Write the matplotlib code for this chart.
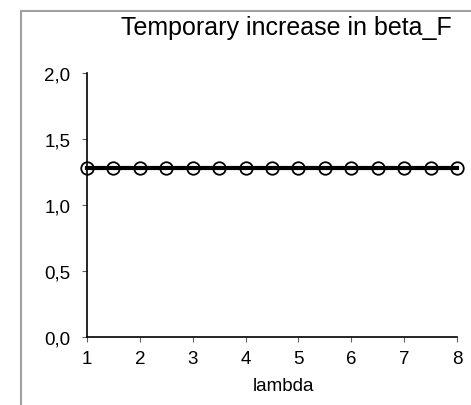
import matplotlib.pyplot as plt
from matplotlib.patches import Rectangle
import numpy as np

# data
lam = [1, 1.5, 2, 2.5, 3, 3.5, 4, 4.5, 5, 5.5, 6, 6.5, 7, 7.5, 8]
beta = [1.28] * len(lam)
yticks = [0.0, 0.5, 1.0, 1.5, 2.0]
xticks = [1, 2, 3, 4, 5, 6, 7, 8]

plt.rcParams['font.family'] = ['Liberation Sans', 'DejaVu Sans']

fig = plt.figure(figsize=(4.71, 4.06), dpi=100)
W, H = 471, 406

# grey chart-area border (runs off the right and bottom edges)
top = 1 - 12 / H
fig.patches.append(Rectangle((21 / W, -0.1), 1.2, top + 0.1, transform=fig.transFigure,
                             fill=False, edgecolor='#a0a0a0', linewidth=1.5))

ax = fig.add_axes([87 / W, 1 - 338 / H, (457 - 87) / W, (338 - 74) / H])
ax.plot(lam, beta, color='black', linewidth=3, marker='o', markersize=9,
        markerfacecolor='none', markeredgecolor='black', markeredgewidth=1.3, clip_on=False)

ax.set_xlim(1, 8)
ax.set_ylim(0, 2)
ax.set_xticks(xticks)
ax.set_xticklabels([str(t) for t in xticks])
ax.set_yticks(yticks)
ax.set_yticklabels([f"{t:.1f}".replace('.', ',') for t in yticks])
ax.tick_params(direction='out', length=3.6, width=0.8, labelsize=13.5, color='#606060')
ax.tick_params(axis='x', pad=5.5)
ax.tick_params(axis='y', pad=8.5)
for s in ['top', 'right']:
    ax.spines[s].set_visible(False)
for s in ['left', 'bottom']:
    ax.spines[s].set_linewidth(1.2)

fig.text(283 / W, 1 - 387 / H, 'lambda', fontsize=13.5, ha='center', va='center')
fig.text(286 / W, 1 - 28 / H, 'Temporary increase in beta_F', fontsize=18,
         ha='center', va='center')

fig.savefig('out.png', dpi=100)
